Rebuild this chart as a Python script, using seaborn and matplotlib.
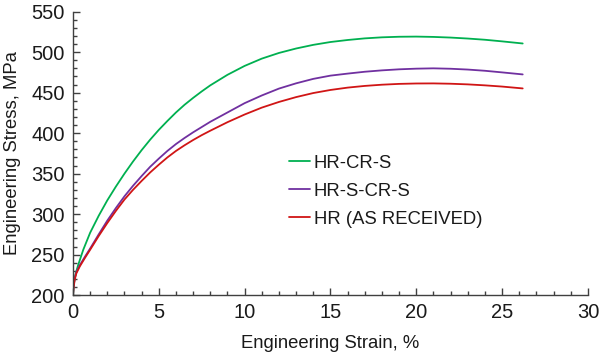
import numpy as np
import pandas as pd
import matplotlib
matplotlib.use("Agg")
import matplotlib.pyplot as plt
from matplotlib.ticker import MultipleLocator
import seaborn as sns

# Engineering strain (%) / stress (MPa)
STRAIN_HRCRS = [0, 0.05, 0.15, 0.3, 0.6, 1.0, 1.5, 2.0, 2.5, 3.0, 3.5, 4.0, 4.5, 5.0, 5.5, 6.0,
                6.5, 7.0, 7.5, 8.0, 9.0, 10.0, 11.0, 12.0, 13.0, 14.0, 15.0, 16.0, 17.0, 18.0,
                19.0, 20.0, 21.0, 22.0, 23.0, 24.0, 25.0, 26.2]
STRESS_HRCRS = [200, 214, 226, 237, 256, 277, 298, 317, 334, 350, 365, 379, 392, 404, 415, 425.5,
                435, 443.5, 451.5, 459, 472, 483, 492, 499, 504.5, 509, 512.5, 515, 517, 518.3,
                519, 519.2, 518.8, 518, 516.8, 515.3, 513.3, 510.7]

STRAIN_HRSCRS = [0, 0.03, 0.1, 0.2, 0.4, 0.7, 1.0, 1.5, 2.0, 2.5, 3.0, 3.5, 4.0, 4.5, 5.0, 5.5,
                 6.0, 6.5, 7.0, 7.5, 8.0, 9.0, 10.0, 11.0, 12.0, 13.0, 14.0, 15.0, 16.0, 17.0,
                 18.0, 19.0, 20.0, 21.0, 22.0, 23.0, 24.0, 25.0, 26.2]
STRESS_HRSCRS = [200, 209, 220.5, 228.5, 237, 247.5, 257.5, 275, 292, 307.5, 322, 335, 347, 358.5,
                 368.5, 378, 386.5, 394, 401, 407.5, 414, 425.5, 437, 446.5, 455, 461.5, 467, 471,
                 473.5, 475.8, 477.5, 478.8, 479.6, 480, 479.5, 478.5, 477, 475, 472.5]

STRAIN_HR = [0, 0.03, 0.1, 0.2, 0.4, 0.7, 1.0, 1.5, 2.0, 2.5, 3.0, 3.5, 4.0, 4.5, 5.0, 5.5,
             6.0, 6.5, 7.0, 7.5, 8.0, 9.0, 10.0, 11.0, 12.0, 13.0, 14.0, 15.0, 16.0, 17.0,
             18.0, 19.0, 20.0, 21.0, 22.0, 23.0, 24.0, 25.0, 26.2]
STRESS_HR = [200, 208, 219, 227, 235.5, 246, 256, 273, 289, 304, 318, 330, 341, 351.5,
             361, 370, 378, 385, 391.5, 397.5, 403, 413.5, 423, 431.5, 438.5, 444.5, 449.5, 453.3,
             456.2, 458.3, 459.8, 460.8, 461.3, 461.4, 461, 460.2, 459, 457.5, 455.2]

LABELS = ["HR-CR-S", "HR-S-CR-S", "HR (AS RECEIVED)"]
COLORS = ["#00b050", "#7030a0", "#d01515"]

frames = []
for lab, sx, sy in zip(LABELS,
                       [STRAIN_HRCRS, STRAIN_HRSCRS, STRAIN_HR],
                       [STRESS_HRCRS, STRESS_HRSCRS, STRESS_HR]):
    frames.append(pd.DataFrame({"strain": sx, "stress": sy, "sample": lab}))
df = pd.concat(frames, ignore_index=True)

sns.set_style("ticks")
plt.rcParams['font.family'] = ['Liberation Sans', 'DejaVu Sans']

fig = plt.figure(figsize=(6.03, 3.53), dpi=100)
ax = fig.add_axes([0.121, 0.164, 0.854, 0.803])

sns.lineplot(data=df, x="strain", y="stress", hue="sample", hue_order=LABELS,
             palette=COLORS, sort=False, estimator=None, linewidth=1.3, ax=ax)

ax.set_xlim(0, 30)
ax.set_ylim(200, 550)
ax.xaxis.set_major_locator(MultipleLocator(5))
ax.xaxis.set_minor_locator(MultipleLocator(1))
ax.yaxis.set_major_locator(MultipleLocator(50))
ax.yaxis.set_minor_locator(MultipleLocator(10))
ax.tick_params(which="both", direction="in", colors="#404040", labelcolor="#1a1a1a",
               labelsize=14.5, width=1)
ax.tick_params(which="major", length=5, pad=6)
ax.tick_params(which="minor", length=3)
sns.despine(ax=ax)
for sp in ["left", "bottom"]:
    ax.spines[sp].set_color("#404040")
    ax.spines[sp].set_linewidth(1)

ax.set_xlabel("Engineering Strain, %", fontsize=13.3, color="#1a1a1a", labelpad=9)
ax.set_ylabel("Engineering Stress, MPa", fontsize=13.3, color="#1a1a1a", labelpad=7)

leg = ax.legend(loc="upper left", bbox_to_anchor=(0.467, 0.583), bbox_transform=fig.transFigure,
                frameon=False, fontsize=13.3, handlelength=1.15, handletextpad=0.2,
                labelspacing=0.6, borderaxespad=0)
for t in leg.get_texts():
    t.set_color("#1a1a1a")

fig.savefig("out.png", dpi=100)
